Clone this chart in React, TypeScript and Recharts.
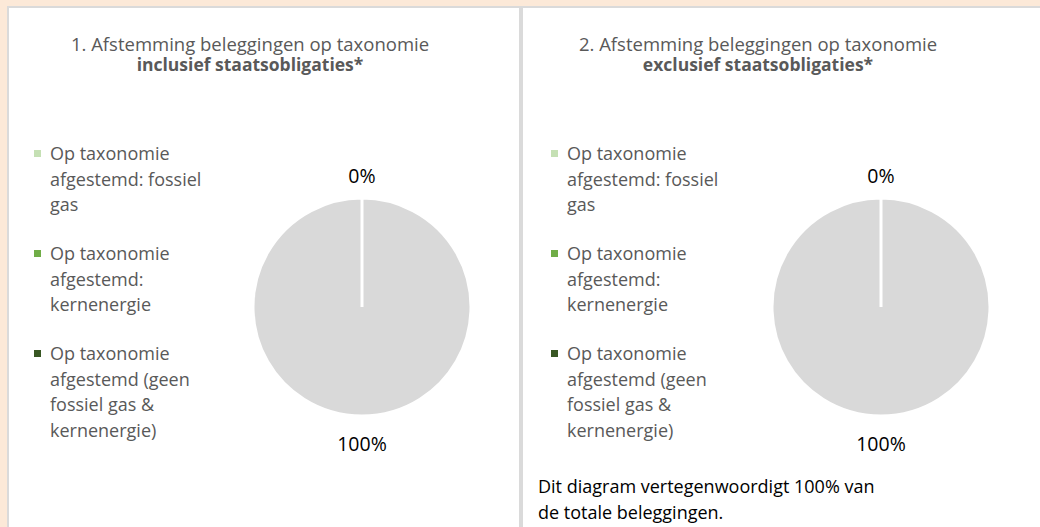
import { Cell, Legend, Pie, PieChart } from 'recharts';

const categories = [
  'Op taxonomie afgestemd: fossiel gas',
  'Op taxonomie afgestemd: kernenergie',
  'Op taxonomie afgestemd (geen fossiel gas & kernenergie)',
  'Niet op taxonomie afgestemd',
];
const legendCategories = categories.slice(0, 3);
const inclusiefValues = [0, 0, 0, 100];
const exclusiefValues = [0, 0, 0, 100];
const sliceColors = ['#C5E0B4', '#70AD47', '#385723', '#D9D9D9'];

const titleLine = ['1. Afstemming beleggingen op taxonomie', '2. Afstemming beleggingen op taxonomie'];
const titleBold = ['inclusief staatsobligaties*', 'exclusief staatsobligaties*'];
const footnote = 'Dit diagram vertegenwoordigt 100% van de totale beleggingen.';

const FONT = '"Open Sans", sans-serif';
const RADIAN = Math.PI / 180;

function renderLabel(props: any) {
  const { cx, cy, midAngle, outerRadius, value, index } = props;
  if (value === 0 && index > 0) return null;
  const r = outerRadius + (midAngle > 0 ? 23 : 27);
  const x = cx + r * Math.cos(-midAngle * RADIAN);
  const y = cy + r * Math.sin(-midAngle * RADIAN);
  return (
    <text x={x} y={y} textAnchor="middle" dominantBaseline="central" fill="#000" fontSize={19.5} fontFamily={FONT}>
      {`${value}%`}
    </text>
  );
}

function renderLegend(props: any) {
  const items = legendCategories
    .map((name) => (props.payload || []).find((p: any) => p.value === name))
    .filter(Boolean);
  return (
    <div style={{ fontFamily: FONT, fontSize: 18, lineHeight: '25.5px', color: '#595959', textAlign: 'left' }}>
      {items.map((p: any) => (
        <div key={p.value} style={{ display: 'flex', alignItems: 'flex-start', marginBottom: 23.5 }}>
          <div style={{ width: 7, height: 7, background: p.color, marginTop: 9, marginRight: 9, flex: 'none' }} />
          <div style={{ width: 165 }}>{p.value}</div>
        </div>
      ))}
    </div>
  );
}

function Panel({ idx, values, left, width, legendLeft, pieCx, titleCx, border, note }: any) {
  const data = categories.map((name, i) => ({ name, value: values[i] }));
  return (
    <div style={{ position: 'absolute', left, top: 6, width, height: 530, boxSizing: 'border-box', background: '#fff', ...border }}>
      <div style={{ position: 'absolute', left: titleCx - 230, width: 460, top: 25, textAlign: 'center', fontFamily: FONT, fontSize: 18.5, lineHeight: '21px', color: '#595959' }}>
        <div>{titleLine[idx]}</div>
        <div style={{ fontWeight: 'bold', fontSize: 17.5 }}>{titleBold[idx]}</div>
      </div>
      <div style={{ position: 'absolute', left: 0, top: 0 }}>
        <PieChart width={width} height={520}>
          <Legend content={renderLegend} layout="vertical" verticalAlign="middle" align="center" wrapperStyle={{ left: legendLeft, top: 133, width: 200 }} />
          <Pie
            data={data}
            dataKey="value"
            nameKey="name"
            cx={pieCx}
            cy={294}
            outerRadius={109}
            startAngle={90}
            endAngle={-270}
            stroke="#fff"
            strokeWidth={3}
            label={renderLabel}
            labelLine={false}
            isAnimationActive={false}
          >
            {data.map((d, i) => (
              <Cell key={d.name} fill={sliceColors[i]} />
            ))}
          </Pie>
        </PieChart>
      </div>
      {note && (
        <div style={{ position: 'absolute', left: 15, top: 465, width: 345, fontFamily: FONT, fontSize: 18, lineHeight: '26px', color: '#000' }}>
          {note}
        </div>
      )}
    </div>
  );
}

export default function App() {
  return (
    <div style={{ position: 'absolute', left: 0, top: 0, width: 1040, height: 527, overflow: 'hidden', background: '#FCE9D8' }}>
      <Panel
        idx={0}
        values={inclusiefValues}
        left={7}
        width={514}
        legendLeft={25}
        pieCx={348}
        titleCx={241}
        border={{ borderTop: '2px solid #DADADA', borderLeft: '2px solid #DADADA', borderRight: '2px solid #DADADA' }}
      />
      <Panel
        idx={1}
        values={exclusiefValues}
        left={521}
        width={519}
        legendLeft={28}
        pieCx={353}
        titleCx={235}
        border={{ borderTop: '2px solid #DADADA', borderLeft: '2px solid #DADADA' }}
        note={footnote}
      />
    </div>
  );
}
